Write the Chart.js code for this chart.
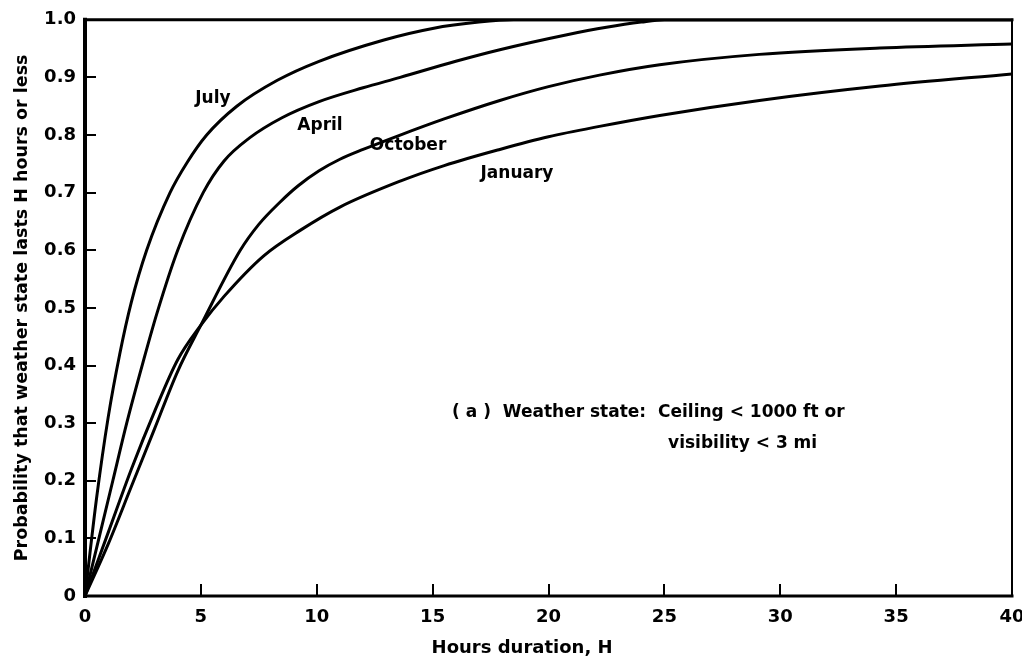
<!DOCTYPE html>
<html>
<head>
<meta charset="utf-8">
<script src="https://cdn.jsdelivr.net/npm/chart.js@4.4.0/dist/chart.umd.min.js"></script>
<style>
  body { margin: 0; background: #fff; }
  #wrap { width: 1022px; height: 667px; }
</style>
</head>
<body>
<div id="wrap"><canvas id="chart"></canvas></div>
<script>
// hours duration H and probability
var julyHours = [0, 0.5, 1, 1.5, 2, 2.66, 3.67, 4.4, 5.25, 6.55, 8.3, 10.1, 12.9, 15, 17, 18.5, 25, 30, 35, 40];
var julyProb  = [0, 0.17, 0.31, 0.42, 0.51, 0.60, 0.70, 0.752, 0.80, 0.85, 0.895, 0.928, 0.965, 0.985, 0.996, 1.0, 1.0, 1.0, 1.0, 1.0];

var aprilHours = [0, 0.6, 1.2, 1.8, 2.5, 3.1, 4.0, 5.1, 6.0, 7.1, 8.5, 10.1, 12, 13.6, 16, 17.9, 20.8, 22.5, 24, 25, 30, 35, 40];
var aprilProb  = [0, 0.10, 0.20, 0.30, 0.405, 0.49, 0.60, 0.70, 0.755, 0.795, 0.83, 0.858, 0.882, 0.90, 0.928, 0.948, 0.974, 0.987, 0.996, 1.0, 1.0, 1.0, 1.0];

var octHours = [0, 1, 2, 3, 4, 5, 6.7, 7.5, 8.4, 9.2, 10.1, 11, 12, 13.6, 15.5, 17.9, 20, 22.2, 24.8, 29.1, 34.3, 40];
var octProb  = [0, 0.09, 0.19, 0.29, 0.39, 0.47, 0.60, 0.645, 0.683, 0.712, 0.738, 0.758, 0.775, 0.80, 0.828, 0.86, 0.884, 0.904, 0.922, 0.94, 0.951, 0.958];

var janHours = [0, 1, 2, 3, 4, 5, 6, 7.7, 9.3, 11, 13.6, 15.5, 17.9, 20, 22.2, 24.8, 29.1, 34.3, 40];
var janProb  = [0, 0.11, 0.22, 0.32, 0.41, 0.47, 0.52, 0.59, 0.635, 0.675, 0.72, 0.747, 0.775, 0.797, 0.815, 0.834, 0.86, 0.885, 0.906];

var xTicks = [0, 5, 10, 15, 20, 25, 30, 35, 40];
var yTicks = [0, 0.1, 0.2, 0.3, 0.4, 0.5, 0.6, 0.7, 0.8, 0.9, 1.0];

// curve labels and note, placed in data units
var curveLabels = [
    { text: 'July', h: 5.52, p: 0.863 },
    { text: 'April', h: 10.14, p: 0.816 },
    { text: 'October', h: 13.94, p: 0.782 },
    { text: 'January', h: 18.64, p: 0.733 }
];
var noteLines = [
    { text: '( a )  Weather state:  Ceiling < 1000 ft or', h: 15.84, p: 0.319 },
    { text: 'visibility < 3 mi', h: 25.16, p: 0.265 }
];
var xTitle = { text: 'Hours duration, H', h: 18.86 };

var FONT = '"DejaVu Sans", sans-serif';

function points(hs, ps) {
    return hs.map(function (h, i) { return { x: h, y: ps[i] }; });
}

function curve(label, hs, ps) {
    return {
        label: label,
        data: points(hs, ps),
        borderColor: '#000',
        borderWidth: 3,
        pointRadius: 0,
        fill: false,
        cubicInterpolationMode: 'monotone'
    };
}

var frame = {
    id: 'frame',
    afterDatasetsDraw: function (chart) {
        var ctx = chart.ctx, a = chart.chartArea;
        var xs = chart.scales.x, ys = chart.scales.y;
        ctx.save();
        ctx.strokeStyle = '#000';
        ctx.lineCap = 'square';

        // box round the plot
        ctx.lineWidth = 3;
        ctx.beginPath();
        ctx.moveTo(a.right, a.top);
        ctx.lineTo(a.left, a.top);
        ctx.lineTo(a.left, a.bottom);
        ctx.lineTo(a.right, a.bottom);
        ctx.stroke();
        ctx.lineWidth = 2;
        ctx.beginPath();
        ctx.moveTo(a.right, a.top);
        ctx.lineTo(a.right, a.bottom);
        ctx.stroke();
        ctx.lineWidth = 4;
        ctx.beginPath();
        ctx.moveTo(a.left, a.top);
        ctx.lineTo(a.left, a.bottom);
        ctx.stroke();

        // inward tick marks
        ctx.lineWidth = 2;
        ctx.lineCap = 'butt';
        yTicks.slice(1, -1).forEach(function (v) {
            var py = Math.round(ys.getPixelForValue(v));
            ctx.beginPath();
            ctx.moveTo(a.left, py);
            ctx.lineTo(a.left + 11, py);
            ctx.stroke();
        });
        xTicks.slice(1, -1).forEach(function (v) {
            var px = Math.round(xs.getPixelForValue(v));
            ctx.beginPath();
            ctx.moveTo(px, a.bottom);
            ctx.lineTo(px, a.bottom - 12);
            ctx.stroke();
        });

        ctx.fillStyle = '#000';
        ctx.textBaseline = 'middle';
        ctx.textAlign = 'center';
        ctx.font = 'bold 17px ' + FONT;
        curveLabels.forEach(function (l) {
            ctx.fillText(l.text, xs.getPixelForValue(l.h), ys.getPixelForValue(l.p));
        });
        ctx.font = 'bold 18px ' + FONT;
        ctx.fillText(xTitle.text, xs.getPixelForValue(xTitle.h), chart.height - 19);
        ctx.textAlign = 'left';
        ctx.font = 'bold 17px ' + FONT;
        noteLines.forEach(function (l) {
            ctx.fillText(l.text, xs.getPixelForValue(l.h), ys.getPixelForValue(l.p));
        });
        ctx.restore();
    }
};

new Chart(document.getElementById('chart'), {
    type: 'line',
    data: {
        datasets: [
            curve('July', julyHours, julyProb),
            curve('April', aprilHours, aprilProb),
            curve('October', octHours, octProb),
            curve('January', janHours, janProb)
        ]
    },
    options: {
        responsive: true,
        maintainAspectRatio: false,
        animation: false,
        layout: { padding: { left: 0, top: 19, right: 10, bottom: 0 } },
        plugins: {
            legend: { display: false },
            tooltip: { enabled: false }
        },
        scales: {
            x: {
                type: 'linear',
                min: 0,
                max: 40,
                afterFit: function (scale) {
                    scale.height = 71;
                    scale.paddingLeft = 0;
                    scale.paddingRight = 0;
                },
                afterBuildTicks: function (scale) {
                    scale.ticks = xTicks.map(function (v) { return { value: v }; });
                },
                grid: { display: false, drawTicks: false },
                border: { display: false },
                ticks: {
                    color: '#000',
                    padding: 11,
                    maxRotation: 0,
                    font: { family: FONT, size: 18, weight: 'bold' }
                }
            },
            y: {
                min: 0,
                max: 1,
                afterFit: function (scale) { scale.width = 85; },
                afterBuildTicks: function (scale) {
                    scale.ticks = yTicks.map(function (v) { return { value: v }; });
                },
                grid: { display: false, drawTicks: false },
                border: { display: false },
                ticks: {
                    color: '#000',
                    padding: 9,
                    font: { family: FONT, size: 18, weight: 'bold' },
                    callback: function (v) { return v === 0 ? '0' : v.toFixed(1); }
                },
                title: {
                    display: true,
                    text: 'Probability that weather state lasts H hours or less',
                    color: '#000',
                    padding: { top: 12, bottom: 0 },
                    font: { family: FONT, size: 17.5, weight: 'bold' }
                }
            }
        }
    },
    plugins: [frame]
});
</script>
</body>
</html>
